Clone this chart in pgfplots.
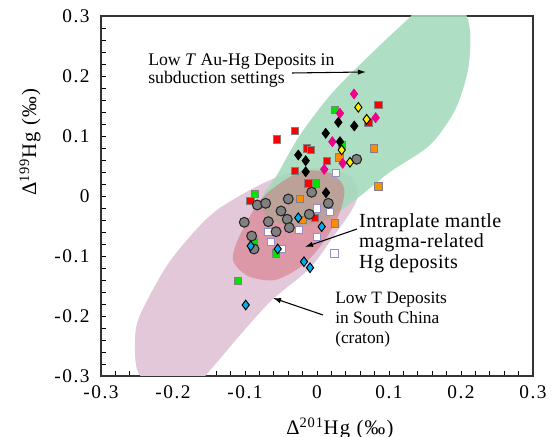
\documentclass[border=0pt]{standalone}
\usepackage{pgfplots}
\pgfplotsset{compat=1.18}
\usepackage{fontspec}
\setmainfont{Liberation Serif}
\usetikzlibrary{arrows.meta}
\definecolor{pinkc}{RGB}{226,200,216}
\definecolor{greenc}{RGB}{163,218,187}
\definecolor{salmonc}{RGB}{215,80,95}
\definecolor{lavc}{RGB}{150,140,205}
\definecolor{orangec}{RGB}{255,140,0}
\begin{document}
\begin{tikzpicture}
\begin{axis}[
  scale only axis, width=324pt, height=270pt,
  xmin=-0.3, xmax=0.3, ymin=-0.3, ymax=0.3,
  xtick={-0.3,-0.2,-0.1,0,0.1,0.2,0.3},
  ytick={-0.3,-0.2,-0.1,0,0.1,0.2,0.3},
  xticklabels={-0.3,-0.2,-0.1,0,0.1,0.2,0.3},
  yticklabels={-0.3,-0.2,-0.1,0,0.1,0.2,0.3},
  minor x tick num=4, minor y tick num=4,
  tick align=inside, xtick pos=bottom, ytick pos=left,
  major tick length=3.5pt, minor tick length=3.5pt,
  tick style={black, line width=0.5pt},
  axis line style={line width=0.9pt, draw=black!80},
  ticklabel style={font=\fontsize{14.5}{14.5}\selectfont\addfontfeature{LetterSpace=8}},
  xticklabel style={yshift=-4pt},
  yticklabel style={xshift=-5pt},
  xlabel={Δ\textsuperscript{201}Hg (‰)},
  ylabel={Δ\textsuperscript{199}Hg (‰)},
  label style={font=\fontsize{15.5}{15.5}\selectfont\addfontfeature{LetterSpace=6}},
  xlabel style={at={(axis description cs:0.553,-0.145)}, anchor=center},
  ylabel style={at={(axis description cs:-0.164,0.65)}, anchor=center},
]
% fields
\addplot[smooth cycle, fill=pinkc, draw=none] coordinates {
(-0.0236,0.0433) (0.0181,0.0467) (0.0486,0.03) (0.0569,0.0017) (0.0458,-0.0283)
(0.0222,-0.0683) (-0.0097,-0.12) (-0.0625,-0.1733) (-0.1069,-0.2317) (-0.1458,-0.2867)
(-0.1764,-0.3233) (-0.2181,-0.3267) (-0.2486,-0.2933) (-0.2528,-0.24) (-0.2458,-0.1983)
(-0.2097,-0.1183) (-0.1722,-0.0617) (-0.1389,-0.0233) (-0.0931,0.01) (-0.0583,0.03)};
\addplot[smooth cycle, fill=greenc, fill opacity=0.88, draw=none] coordinates {
(0.157,0.3267) (0.1986,0.3183) (0.2125,0.2767) (0.2097,0.21) (0.1917,0.1433)
(0.1569,0.085) (0.1014,0.04) (0.0528,-0.0067) (0.0111,-0.04) (-0.0306,-0.05)
(-0.0681,-0.0367) (-0.0764,-0.0033) (-0.0556,0.035) (-0.0236,0.1017) (0.0222,0.1733)
(0.0806,0.2433) (0.1222,0.29)};
\addplot[smooth cycle, fill=salmonc, fill opacity=0.4, draw=none] coordinates {
(-0.0236,0.04) (0.0181,0.0383) (0.0375,0.0133) (0.0319,-0.0267) (0.0111,-0.0733)
(-0.0194,-0.115) (-0.0583,-0.14) (-0.0958,-0.1333) (-0.1167,-0.1067) (-0.1069,-0.065)
(-0.075,-0.0017)};
% white squares
\addplot[only marks, mark=square*, mark size=2.8pt, mark options={fill=white, draw=lavc, line width=0.6pt}] coordinates {
(0.026,0.0388) (-0.0004,-0.0205) (0.018,-0.0262) (-0.025,-0.0567) (-0.0004,-0.0678)
(-0.0643,-0.0762) (-0.0676,-0.0595) (-0.049,-0.0883) (0.024,-0.0955)};
% orange squares
\addplot[only marks, mark=square*, mark size=2.8pt, mark options={fill=orangec, draw=gray, line width=0.4pt}] coordinates {
(0.0792,0.0795) (0.031,0.0645) (0.0851,0.0162) (-0.0236,-0.005) (-0.0199,-0.04) (0.025,-0.0455)};
% red squares
\addplot[only marks, mark=square*, mark size=2.8pt, mark options={fill=red, draw=gray, line width=0.4pt}] coordinates {
(0.0851,0.1517) (0.0713,0.1228) (-0.0306,0.1088) (-0.056,0.0945) (-0.0143,0.0795)
(-0.0088,0.0767) (0.0135,0.0588) (-0.0306,0.0422) (-0.0121,0.0212) (-0.093,-0.0078) (-0.0028,-0.0362)};
% green squares
\addplot[only marks, mark=square*, mark size=2.8pt, mark options={fill=green!90!black, draw=gray, line width=0.4pt}] coordinates {
(0.025,0.1433) (0.0343,0.085) (-0.0014,0.0212) (-0.0861,0.0033) (-0.0885,-0.0762)
(-0.0569,-0.0955) (-0.110,-0.1417)};
% gray circles
\addplot[only marks, mark=*, mark size=3.7pt, mark options={fill=gray, draw=black!85, line width=0.8pt}] coordinates {
(0.0551,0.0612) (-0.0399,-0.005) (-0.0074,0.0062) (-0.0829,-0.015) (-0.0713,-0.0122)
(0.0157,-0.0122) (-0.05,-0.025) (-0.0413,-0.0388) (-0.0676,-0.0428) (-0.101,-0.0438)
(-0.0569,-0.0595) (-0.0385,-0.0528) (-0.0107,-0.0305) (-0.0907,-0.0667) (-0.0875,-0.0883)};
% black diamonds
\addplot[only marks, mark=diamond*, mark size=3.8pt, mark options={fill=black, draw=black, line width=0.4pt}] coordinates {
(0.0296,0.1228) (0.0518,0.1167) (0.0121,0.1045) (0.0319,0.0905) (-0.026,0.0683)
(-0.0157,0.0588) (-0.0157,0.0405) (0.0125,0.0055)};
% magenta diamonds
\addplot[only marks, mark=diamond*, mark size=3.8pt, mark options={fill=magenta, draw=magenta, line width=0.4pt}] coordinates {
(0.0514,0.17) (0.0319,0.1378) (0.0815,0.1305) (0.0213,0.0905) (0.0357,0.0545) (0.0101,0.0445)};
% yellow diamonds
\addplot[only marks, mark=diamond*, mark size=3.6pt, mark options={fill=yellow, draw=black, line width=0.7pt}] coordinates {
(0.0574,0.1478) (0.069,0.1278) (0.0343,0.0767) (0.0458,0.0562)};
% cyan diamonds
\addplot[only marks, mark=diamond*, mark size=3.6pt, mark options={fill=cyan, draw=black, line width=0.7pt}] coordinates {
(-0.026,-0.0362) (0.0065,-0.0512) (-0.0546,-0.0883) (-0.0921,-0.0833) (-0.0181,-0.1095)
(-0.0097,-0.1195) (-0.0990,-0.1817)};
% annotations
\node[anchor=west, align=left, inner sep=0pt, font=\fontsize{13.3}{13.5}\selectfont] at (axis cs:-0.2347,0.2083) {Low \textit{T} Au-Hg Deposits in\\subduction settings};
\draw[line width=0.8pt, -{Latex[length=6pt,width=4pt]}] (axis cs:-0.0347,0.205) -- (axis cs:0.068,0.2067);
\node[anchor=west, align=left, inner sep=0pt, font=\fontsize{15}{15.4}\selectfont\addfontfeature{LetterSpace=2}] at (axis cs:0.0583,-0.0783) {Intraplate mantle\\magma-related\\Hg deposits};
\draw[line width=0.8pt, -{Latex[length=6pt,width=4pt]}] (axis cs:0.0556,-0.055) -- (axis cs:-0.0167,-0.085);
\node[anchor=west, align=left, inner sep=0pt, font=\fontsize{13}{15}\selectfont] at (axis cs:0.025,-0.2067) {Low T Deposits\\in South China\\(craton)};
\draw[line width=0.8pt, -{Latex[length=6pt,width=4pt]}] (axis cs:0.0083,-0.1983) -- (axis cs:-0.0611,-0.17);
\coordinate (SW) at (rel axis cs:0,0);
\coordinate (NE) at (rel axis cs:1,1);
\end{axis}
\pgfresetboundingbox
\path[use as bounding box] ([xshift=-75.75pt,yshift=-45.75pt]SW) rectangle ([xshift=14.25pt,yshift=12pt]NE);
\end{tikzpicture}
\end{document}
